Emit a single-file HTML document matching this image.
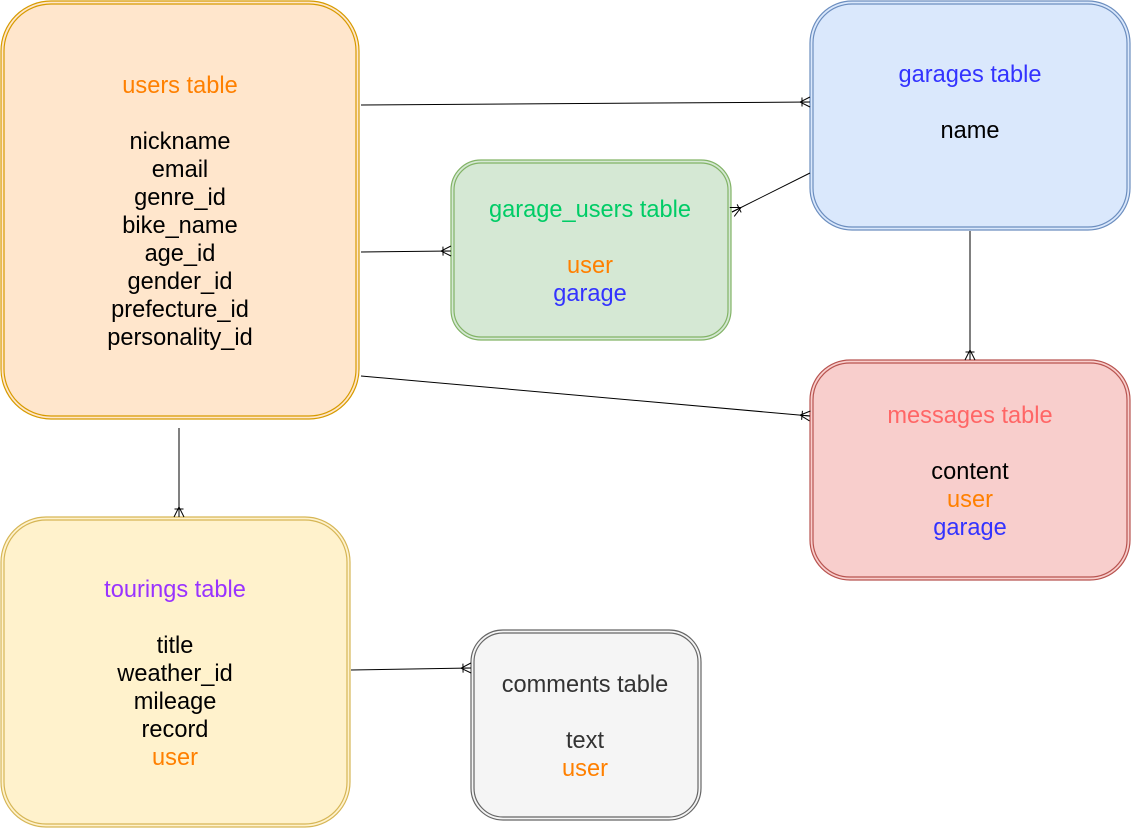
<!DOCTYPE html>
<html><head><meta charset="utf-8"><style>
html,body{margin:0;padding:0;background:#fff;}
svg{display:block;}
text{font-family:"Liberation Sans",Arial,sans-serif;font-size:23.6px;text-anchor:middle;}
</style></head><body>
<svg width="1131" height="828" viewBox="0 0 1131 828" xmlns="http://www.w3.org/2000/svg">
<defs>
<marker id="cf" markerWidth="14" markerHeight="14" refX="11" refY="6" orient="auto" markerUnits="userSpaceOnUse">
<path d="M1,6 L11,1 M1,6 L11,6 M1,6 L11,11 M3,1.5 L3,10.5" stroke="#000" stroke-width="1" fill="none"/>
</marker>
</defs>
<rect x="1" y="1" width="358" height="418" rx="50" fill="#ffe6cc" stroke="#d79b00" stroke-width="1.2"/>
<rect x="4" y="4" width="352" height="412" rx="47" fill="none" stroke="#d79b00" stroke-width="1.2"/>
<rect x="810" y="1" width="320" height="229" rx="42" fill="#dae8fc" stroke="#6c8ebf" stroke-width="1.2"/>
<rect x="813" y="4" width="314" height="223" rx="39" fill="none" stroke="#6c8ebf" stroke-width="1.2"/>
<rect x="451" y="160" width="280" height="180" rx="30" fill="#d5e8d4" stroke="#82b366" stroke-width="1.2"/>
<rect x="454" y="163" width="274" height="174" rx="27" fill="none" stroke="#82b366" stroke-width="1.2"/>
<rect x="810" y="360" width="320" height="220" rx="40" fill="#f8cecc" stroke="#b85450" stroke-width="1.2"/>
<rect x="813" y="363" width="314" height="214" rx="37" fill="none" stroke="#b85450" stroke-width="1.2"/>
<rect x="1" y="517" width="349" height="310" rx="45" fill="#fff2cc" stroke="#d6b656" stroke-width="1.2"/>
<rect x="4" y="520" width="343" height="304" rx="42" fill="none" stroke="#d6b656" stroke-width="1.2"/>
<rect x="471" y="630" width="230" height="190" rx="32" fill="#f5f5f5" stroke="#666" stroke-width="1.2"/>
<rect x="474" y="633" width="224" height="184" rx="29" fill="none" stroke="#666" stroke-width="1.2"/>

<g stroke="#000" stroke-width="1" fill="none">
<line x1="361" y1="105" x2="810" y2="102" marker-end="url(#cf)"/>
<line x1="361" y1="252" x2="451" y2="251" marker-end="url(#cf)"/>
<line x1="810" y1="173" x2="732" y2="212" marker-end="url(#cf)"/>
<line x1="970" y1="231" x2="970" y2="360" marker-end="url(#cf)"/>
<line x1="361" y1="376" x2="810" y2="416" marker-end="url(#cf)"/>
<line x1="179" y1="428" x2="179" y2="517" marker-end="url(#cf)"/>
<line x1="351" y1="670" x2="471" y2="668" marker-end="url(#cf)"/>
</g>

<text x="180" y="93" fill="#FF8000">users table</text>
<g fill="#000">
<text x="180" y="149">nickname</text>
<text x="180" y="177">email</text>
<text x="180" y="205">genre_id</text>
<text x="180" y="233">bike_name</text>
<text x="180" y="261">age_id</text>
<text x="180" y="289">gender_id</text>
<text x="180" y="317">prefecture_id</text>
<text x="180" y="345">personality_id</text>
</g>

<text x="970" y="82" fill="#3333FF">garages table</text>
<text x="970" y="138" fill="#000">name</text>

<text x="590" y="217" fill="#00CC66">garage_users table</text>
<text x="590" y="273" fill="#FF8000">user</text>
<text x="590" y="301" fill="#3333FF">garage</text>

<text x="970" y="423" fill="#FF6666">messages table</text>
<text x="970" y="479" fill="#000">content</text>
<text x="970" y="507" fill="#FF8000">user</text>
<text x="970" y="535" fill="#3333FF">garage</text>

<text x="175" y="597" fill="#9933FF">tourings table</text>
<g fill="#000">
<text x="175" y="653">title</text>
<text x="175" y="681">weather_id</text>
<text x="175" y="709">mileage</text>
<text x="175" y="737">record</text>
</g>
<text x="175" y="765" fill="#FF8000">user</text>

<text x="585" y="692" fill="#333">comments table</text>
<text x="585" y="748" fill="#333">text</text>
<text x="585" y="776" fill="#FF8000">user</text>
</svg>
</body></html>
